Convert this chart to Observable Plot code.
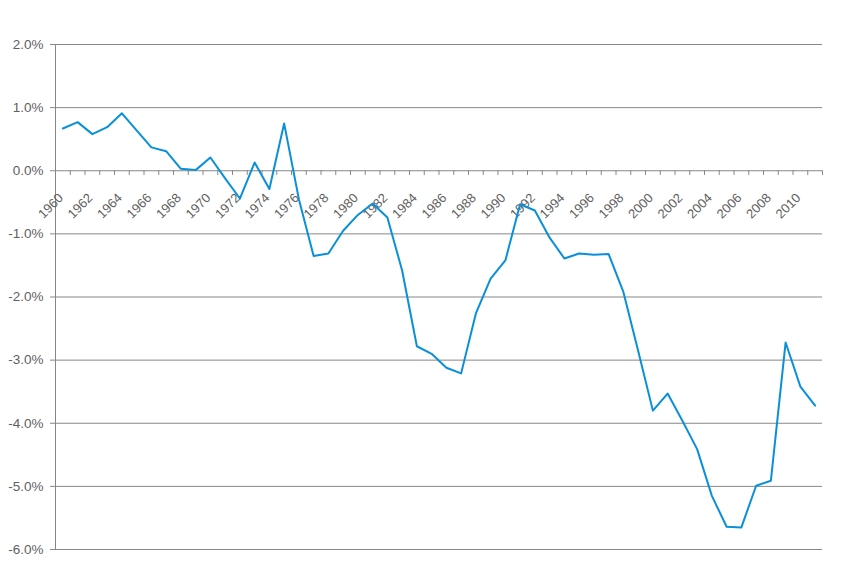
<!DOCTYPE html>
<html>
<head>
<meta charset="utf-8">
<script src="https://cdn.jsdelivr.net/npm/d3@7"></script>
<script src="https://cdn.jsdelivr.net/npm/@observablehq/plot@0.6"></script>
<style>
  html, body { margin: 0; padding: 0; background: #fff; }
  #chart svg { display: block; }
</style>
</head>
<body>
<div id="chart"></div>
<script>
const years = [1960,1961,1962,1963,1964,1965,1966,1967,1968,1969,
  1970,1971,1972,1973,1974,1975,1976,1977,1978,1979,
  1980,1981,1982,1983,1984,1985,1986,1987,1988,1989,
  1990,1991,1992,1993,1994,1995,1996,1997,1998,1999,
  2000,2001,2002,2003,2004,2005,2006,2007,2008,2009,
  2010,2011];
const values = [0.67,0.77,0.58,0.69,0.91,0.64,0.37,0.31,0.03,0.01,
  0.21,-0.12,-0.44,0.13,-0.29,0.75,-0.45,-1.35,-1.31,-0.95,
  -0.70,-0.52,-0.74,-1.58,-2.78,-2.90,-3.12,-3.21,-2.26,-1.71,
  -1.42,-0.53,-0.63,-1.06,-1.39,-1.31,-1.33,-1.32,-1.92,-2.85,
  -3.80,-3.53,-3.96,-4.41,-5.15,-5.64,-5.65,-4.99,-4.91,-2.72,
  -3.42,-3.72];
const yTicks = [2,1,0,-1,-2,-3,-4,-5,-6];
const xLabels = [1960,1962,1964,1966,1968,1970,1972,1974,1976,1978,1980,1982,1984,1986,1988,1990,1992,1994,1996,1998,2000,2002,2004,2006,2008,2010];

const data = years.map((y, i) => ({year: y, value: values[i]}));
const xStart = years[0] - 0.5;
const xEnd = years[years.length - 1] + 0.5;
const boundaries = years.map(y => y - 0.5).concat([xEnd]);

const gridColor = "#878787";
const textColor = "#5f5f5f";
const font = "'Liberation Sans', Arial, sans-serif";

const chart = Plot.plot({
  width: 841,
  height: 582,
  marginTop: 44,
  marginBottom: 33,
  marginLeft: 55,
  marginRight: 19,
  style: {fontFamily: font, background: "#fff"},
  x: {type: "linear", domain: [xStart, xEnd], axis: null},
  y: {domain: [-6, 2], axis: null},
  marks: [
    Plot.ruleY(yTicks, {y: d => d, stroke: gridColor, strokeWidth: 1, insetLeft: -5}),
    Plot.ruleX([xStart], {x: d => d, stroke: gridColor, strokeWidth: 1}),
    Plot.ruleX(boundaries, {x: d => d, y1: 0, y2: -0.075, stroke: gridColor, strokeWidth: 1}),
    Plot.text(yTicks, {x: xStart, y: d => d, text: d => d.toFixed(1) + "%", textAnchor: "end", dx: -12, fontSize: 13.5, fill: textColor}),
    Plot.text(xLabels, {x: d => d, y: 0, text: d => String(d), rotate: -45, textAnchor: "end", lineAnchor: "bottom", dx: 1, dy: 28, fontSize: 13, fill: textColor}),
    Plot.line(data, {x: "year", y: "value", stroke: "#0a90d8", strokeWidth: 2})
  ]
});
document.getElementById("chart").appendChild(chart);
</script>
</body>
</html>
